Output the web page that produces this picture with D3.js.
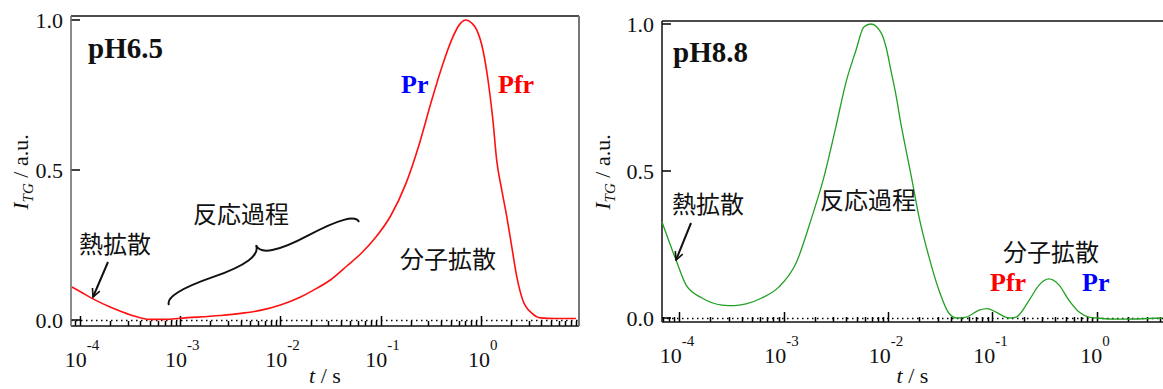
<!DOCTYPE html>
<html>
<head>
<meta charset="utf-8">
<script src="https://cdn.jsdelivr.net/npm/d3@7"></script>
<style>
  body { margin: 0; background: #fff; }
  svg { display: block; }
  .serif { font-family: "Liberation Serif", "Times New Roman", serif; }
  .jp { font-family: "Noto Sans CJK JP", sans-serif; font-size: 24px; fill: #111; }
</style>
</head>
<body>
<svg id="chart" width="1163" height="389"></svg>
<script>
// pH6.5 signal (t in s, normalised TG intensity)
var tLeft = [8.3e-5, 1.0e-4, 1.41e-4, 2.0e-4, 3.2e-4, 5.0e-4, 7.1e-4, 1.0e-3, 2.5e-3, 4.0e-3,
    6.3e-3, 0.010, 0.0155, 0.021, 0.032, 0.046, 0.063, 0.089, 0.125, 0.18, 0.24, 0.324, 0.415, 0.51, 0.62, 0.71,
    0.81, 0.91, 1.05, 1.18, 1.32, 1.44, 1.62, 1.82, 2.04, 2.29, 2.62, 3.23, 3.96, 5.5, 8.9];
var iLeft = [0.11, 0.095, 0.067, 0.043, 0.017, 0.002, 0.002, 0.006, 0.015, 0.022,
    0.032, 0.05, 0.075, 0.098, 0.135, 0.18, 0.22, 0.275, 0.345, 0.457, 0.58, 0.733, 0.85, 0.933, 0.987, 1.0,
    0.99, 0.967, 0.90, 0.80, 0.667, 0.533, 0.433, 0.343, 0.243, 0.143, 0.067, 0.023, 0.007, 0.005, 0.005];

// pH8.8 signal
var tRight = [6.87e-5, 9.36e-5, 1.17e-4, 1.66e-4, 2.58e-4, 3.37e-4, 4.38e-4, 6.2e-4, 9.0e-4,
    1.32e-3, 1.87e-3, 2.44e-3, 3.17e-3, 3.95e-3, 4.93e-3, 5.87e-3, 6.85e-3, 8.6e-3, 9.6e-3,
    0.0107, 0.0119, 0.0133, 0.0149, 0.0166, 0.0198, 0.0247, 0.0307, 0.0382, 0.0455, 0.0558,
    0.0745, 0.089, 0.108, 0.144, 0.168, 0.224, 0.279, 0.347, 0.434, 0.54, 0.675, 0.84, 1.0, 1.62, 4.2];
var iRight = [0.327, 0.197, 0.112, 0.068, 0.044, 0.042, 0.048, 0.068, 0.105,
    0.187, 0.344, 0.48, 0.65, 0.80, 0.91, 0.99, 1.0, 0.97, 0.92,
    0.84, 0.76, 0.66, 0.57, 0.487, 0.344, 0.207, 0.095, 0.017, 0.0, 0.003,
    0.027, 0.032, 0.02, 0.0, 0.003, 0.06, 0.112, 0.133, 0.112, 0.06, 0.02, 0.003, 0.0, -0.004, 0.0];

var yTicks = [0, 0.5, 1.0];
var xDecades = [-4, -3, -2, -1, 0];

var svg = d3.select("#chart");

function Panel(opt) {
    var self = this;
    self.opt = opt;
    self.init();
}

Panel.prototype.init = function () {
    var self = this, o = self.opt;
    self.x = d3.scaleLog().domain(o.xDomain).range([o.left, o.right]);
    self.y = d3.scaleLinear().domain(o.yDomain).range([o.bottom, o.top]);
    self.g = svg.append("g");
};

Panel.prototype.draw = function (t, v) {
    var self = this, o = self.opt, g = self.g, x = self.x, y = self.y;

    // zero line, dotted
    g.append("line")
        .attr("x1", o.left).attr("x2", o.right)
        .attr("y1", Math.round(y(0)) + 0.5).attr("y2", Math.round(y(0)) + 0.5)
        .attr("stroke", "#000").attr("stroke-width", 1.5)
        .attr("stroke-dasharray", "1.5,3.5");

    // x ticks (inward), major + minor
    var majors = xDecades.map(function (d) { return Math.pow(10, d); });
    var minors = [];
    for (var e = -5; e <= 0; e++) {
        for (var m = 2; m <= 9; m++) {
            var val = m * Math.pow(10, e);
            if (val >= o.xDomain[0] && val <= o.xDomain[1]) minors.push(val);
        }
    }
    var tickData = majors.map(function (d) { return {v: d, len: 10}; })
        .concat(minors.map(function (d) { return {v: d, len: 5}; }));
    g.selectAll("line.xtick")
        .data(tickData)
        .enter()
        .append("line")
        .attr("class", "xtick")
        .attr("x1", function (d) { return Math.round(x(d.v)) + 0.5; })
        .attr("x2", function (d) { return Math.round(x(d.v)) + 0.5; })
        .attr("y1", o.bottom)
        .attr("y2", function (d) { return o.bottom - d.len; })
        .attr("stroke", "#000").attr("stroke-width", 1.5);

    // x tick labels with superscript exponents
    xDecades.forEach(function (d) {
        var txt = g.append("text").attr("class", "serif")
            .attr("x", x(Math.pow(10, d)) + o.labelShift)
            .attr("y", o.bottom + 41)
            .attr("text-anchor", "middle")
            .attr("font-size", 22).attr("fill", "#111");
        txt.append("tspan").text("10");
        txt.append("tspan").attr("dy", -17).attr("font-size", 15).text(d === 0 ? "0" : "-" + (-d));
    });

    // y ticks (inward)
    g.selectAll("line.ytick")
        .data(yTicks)
        .enter()
        .append("line")
        .attr("class", "ytick")
        .attr("x1", o.left).attr("x2", o.left + 9)
        .attr("y1", function (d) { return y(d); })
        .attr("y2", function (d) { return y(d); })
        .attr("stroke", "#000").attr("stroke-width", 1.5);
    yTicks.forEach(function (d) {
        g.append("text").attr("class", "serif")
            .attr("x", o.left - 8).attr("y", y(d))
            .attr("dy", "0.35em")
            .attr("text-anchor", "end")
            .attr("font-size", 22).attr("fill", "#111")
            .text(d3.format(".1f")(d));
    });

    // frame
    g.append("line").attr("x1", o.left).attr("x2", o.right).attr("y1", o.top).attr("y2", o.top)
        .attr("stroke", "#111").attr("stroke-width", 1.5);
    g.append("line").attr("x1", o.left).attr("x2", o.right).attr("y1", o.bottom).attr("y2", o.bottom)
        .attr("stroke", "#111").attr("stroke-width", 1.5);
    g.append("line").attr("x1", o.left).attr("x2", o.left).attr("y1", o.top).attr("y2", o.bottom)
        .attr("stroke", o.leftColor).attr("stroke-width", 1.5);
    if (o.rightBorder) {
        g.append("line").attr("x1", o.right).attr("x2", o.right).attr("y1", o.top).attr("y2", o.bottom)
            .attr("stroke", "#777").attr("stroke-width", 2);
    }

    // data line
    var pts = t.map(function (d, i) { return [d, v[i]]; });
    var line = d3.line()
        .x(function (d) { return x(d[0]); })
        .y(function (d) { return y(d[1]); })
        .curve(d3.curveMonotoneX);
    g.append("path").datum(pts)
        .attr("d", line)
        .attr("fill", "none")
        .attr("stroke", o.color)
        .attr("stroke-width", o.lineWidth);

    // axis titles
    var xl = g.append("text").attr("class", "serif")
        .attr("x", (o.left + o.right) / 2).attr("y", o.xTitleY)
        .attr("text-anchor", "middle").attr("font-size", 22).attr("fill", "#111");
    xl.append("tspan").attr("font-style", "italic").text("t");
    xl.append("tspan").text(" / s");

    var yl = g.append("text").attr("class", "serif")
        .attr("transform", "translate(" + o.yTitleX + "," + o.yTitleY + ") rotate(-90)")
        .attr("text-anchor", "middle").attr("font-size", 22).attr("fill", "#111");
    yl.append("tspan").attr("font-style", "italic").text("I");
    yl.append("tspan").attr("font-style", "italic").attr("font-size", 15).attr("dy", 5).text("TG");
    yl.append("tspan").attr("dy", -5).text(" / a.u.");
};

Panel.prototype.label = function (txt, px, py, color, size) {
    this.g.append("text").attr("class", "serif")
        .attr("x", px).attr("y", py)
        .attr("font-weight", "bold").attr("font-size", size)
        .attr("fill", color).text(txt);
};

Panel.prototype.jp = function (txt, px, py) {
    this.g.append("text").attr("class", "jp")
        .attr("x", px).attr("y", py)
        .attr("text-anchor", "middle")
        .attr("dominant-baseline", "central")
        .text(txt);
};

Panel.prototype.arrow = function (x1, y1, x2, y2) {
    this.g.append("line")
        .attr("x1", x1).attr("y1", y1).attr("x2", x2).attr("y2", y2)
        .attr("stroke", "#111").attr("stroke-width", 2)
        .attr("marker-end", "url(#arrowHead)");
};

// marker for arrows
svg.append("defs").append("marker")
    .attr("id", "arrowHead")
    .attr("viewBox", "0 0 10 10")
    .attr("refX", 9).attr("refY", 5)
    .attr("markerWidth", 5).attr("markerHeight", 5)
    .attr("orient", "auto")
    .append("path")
    .attr("d", "M1,1 L9,5 L1,9")
    .attr("fill", "none").attr("stroke", "#111").attr("stroke-width", 1.6);

// curly brace between two points
function bracePath(x1, y1, x2, y2, w, q) {
    var dx = x1 - x2, dy = y1 - y2;
    var len = Math.sqrt(dx * dx + dy * dy);
    dx = dx / len; dy = dy / len;
    var qx1 = x1 + q * w * dy, qy1 = y1 - q * w * dx;
    var qx2 = (x1 - .25 * len * dx) + (1 - q) * w * dy, qy2 = (y1 - .25 * len * dy) - (1 - q) * w * dx;
    var tx1 = (x1 - .5 * len * dx) + w * dy, ty1 = (y1 - .5 * len * dy) - w * dx;
    var qx3 = x2 + q * w * dy, qy3 = y2 - q * w * dx;
    var qx4 = (x1 - .75 * len * dx) + (1 - q) * w * dy, qy4 = (y1 - .75 * len * dy) - (1 - q) * w * dx;
    return "M" + x1 + "," + y1 + " Q" + qx1 + "," + qy1 + " " + qx2 + "," + qy2 + " T" + tx1 + "," + ty1 +
        " M" + x2 + "," + y2 + " Q" + qx3 + "," + qy3 + " " + qx4 + "," + qy4 + " T" + tx1 + "," + ty1;
}

var left = new Panel({
    left: 71, right: 579, top: 16, bottom: 326,
    xDomain: [Math.pow(10, -4.09), Math.pow(10, 0.98)],
    yDomain: [-0.02, 1.0133],
    color: "#ff1010", lineWidth: 1.6, leftColor: "#666", rightBorder: true,
    labelShift: 2, xTitleY: 383, yTitleX: 28, yTitleY: 172
});
left.draw(tLeft, iLeft);
left.label("pH6.5", 88, 58, "#111", 29);
left.label("Pr", 401, 93, "#0000ff", 26);
left.label("Pfr", 498, 93, "#ff0000", 26);
left.jp("熱拡散", 115, 242);
left.jp("反応過程", 241, 212);
left.jp("分子拡散", 448, 257);
left.arrow(108, 262, 93, 297);
left.g.append("path")
    .attr("d", bracePath(359, 222, 169, 305, 20, 0.6))
    .attr("fill", "none").attr("stroke", "#111").attr("stroke-width", 2);

var right = new Panel({
    left: 662, right: 1163, top: 21, bottom: 322,
    xDomain: [Math.pow(10, -4.163), Math.pow(10, 0.632)],
    yDomain: [-0.0136, 1.0102],
    color: "#22a022", lineWidth: 1.3, leftColor: "#111", rightBorder: false,
    labelShift: -2, xTitleY: 383, yTitleX: 610, yTitleY: 172
});
right.draw(tRight, iRight);
right.label("pH8.8", 673, 62, "#111", 29);
right.label("Pfr", 990, 291, "#ff0000", 26);
right.label("Pr", 1082, 291, "#0000ff", 26);
right.jp("熱拡散", 708, 202);
right.jp("反応過程", 868, 198);
right.jp("分子拡散", 1051, 250);
right.arrow(691, 223, 676, 260);
</script>
</body>
</html>
